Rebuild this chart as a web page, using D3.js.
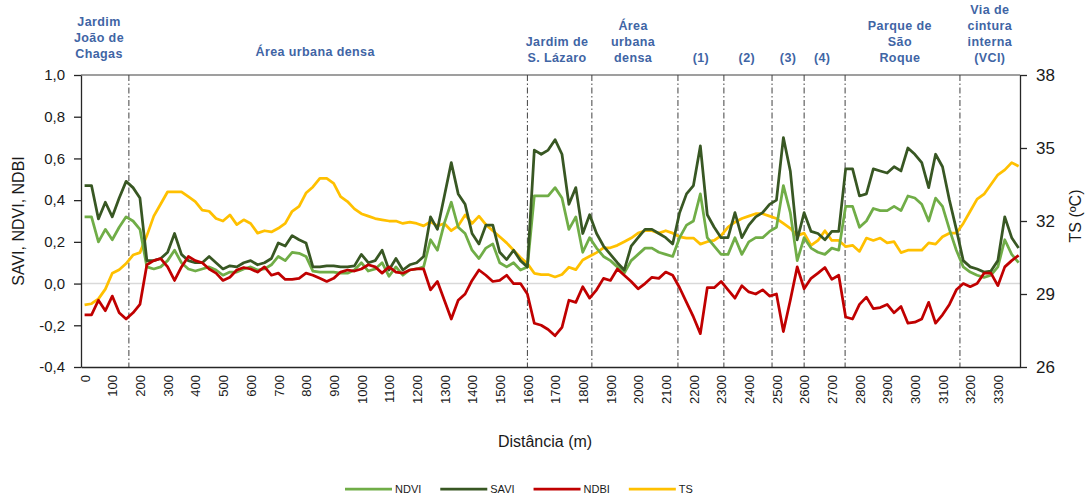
<!DOCTYPE html>
<html lang="pt">
    <head>
        <meta charset="utf-8">
        <title>Perfil SAVI NDVI NDBI TS</title>
        <script type="text/javascript" src="https://cdn.jsdelivr.net/npm/d3@7"></script>
        <style>
            body { margin: 0; background: #fff; }
            text { font-family: "Liberation Sans", Arial, sans-serif; }
        </style>
    </head>
    <body>
        <script type="text/javascript">

            // sampling every 25 m along the transect
            var distance = d3.range(0, 3400, 25);

            var savi = [0.47, 0.47, 0.31, 0.39, 0.32, 0.41, 0.49, 0.46, 0.41, 0.11,
                0.11, 0.12, 0.15, 0.24, 0.14, 0.11, 0.10, 0.10, 0.13, 0.10,
                0.07, 0.085, 0.08, 0.10, 0.11, 0.09, 0.10, 0.12, 0.195, 0.18,
                0.23, 0.21, 0.195, 0.08, 0.08, 0.085, 0.085, 0.08, 0.08, 0.085,
                0.14, 0.10, 0.11, 0.16, 0.065, 0.12, 0.065, 0.09, 0.10, 0.13,
                0.32, 0.26, 0.42, 0.58, 0.43, 0.38, 0.24, 0.19, 0.28, 0.28,
                0.15, 0.115, 0.16, 0.11, 0.08, 0.64, 0.62, 0.64, 0.69, 0.62,
                0.38, 0.46, 0.24, 0.33, 0.24, 0.18, 0.14, 0.10, 0.065, 0.18,
                0.22, 0.26, 0.26, 0.24, 0.22, 0.19, 0.34, 0.43, 0.47, 0.66,
                0.33, 0.27, 0.22, 0.22, 0.34, 0.22, 0.28, 0.32, 0.34, 0.38,
                0.40, 0.70, 0.54, 0.21, 0.34, 0.25, 0.24, 0.21, 0.25, 0.25,
                0.55, 0.55, 0.42, 0.43, 0.55, 0.54, 0.53, 0.56, 0.54, 0.65,
                0.62, 0.58, 0.46, 0.62, 0.56, 0.40, 0.26, 0.11, 0.08, 0.07,
                0.055, 0.06, 0.11, 0.32, 0.22, 0.17];

            var ndvi = [0.32, 0.32, 0.20, 0.26, 0.21, 0.27, 0.32, 0.30, 0.26, 0.08,
                0.07, 0.08, 0.11, 0.16, 0.10, 0.07, 0.06, 0.07, 0.08, 0.065,
                0.04, 0.055, 0.055, 0.07, 0.08, 0.065, 0.07, 0.09, 0.13, 0.11,
                0.15, 0.145, 0.13, 0.06, 0.055, 0.055, 0.055, 0.05, 0.05, 0.065,
                0.10, 0.06, 0.07, 0.10, 0.035, 0.08, 0.04, 0.065, 0.07, 0.08,
                0.21, 0.16, 0.29, 0.39, 0.27, 0.24, 0.16, 0.12, 0.17, 0.19,
                0.10, 0.08, 0.10, 0.065, 0.08, 0.42, 0.42, 0.42, 0.46, 0.41,
                0.26, 0.32, 0.15, 0.22, 0.17, 0.13, 0.11, 0.08, 0.05, 0.11,
                0.14, 0.17, 0.17, 0.15, 0.14, 0.13, 0.22, 0.28, 0.30, 0.43,
                0.22, 0.18, 0.14, 0.14, 0.22, 0.14, 0.20, 0.22, 0.22, 0.25,
                0.27, 0.47, 0.34, 0.11, 0.22, 0.17, 0.15, 0.14, 0.17, 0.16,
                0.37, 0.37, 0.27, 0.30, 0.36, 0.35, 0.35, 0.37, 0.35, 0.42,
                0.41, 0.38, 0.30, 0.41, 0.37, 0.26, 0.16, 0.08, 0.055, 0.04,
                0.03, 0.04, 0.08, 0.21, 0.14, 0.10];

            var ndbi = [-0.15, -0.15, -0.08, -0.13, -0.06, -0.14, -0.17, -0.14, -0.10, 0.09,
                0.11, 0.12, 0.08, 0.015, 0.08, 0.13, 0.11, 0.10, 0.07, 0.05,
                0.015, 0.03, 0.065, 0.077, 0.07, 0.055, 0.08, 0.04, 0.05, 0.02,
                0.02, 0.025, 0.05, 0.04, 0.025, 0.01, 0.025, 0.055, 0.065, 0.06,
                0.07, 0.09, 0.08, 0.05, 0.08, 0.055, 0.05, 0.065, 0.07, 0.07,
                -0.03, 0.01, -0.08, -0.17, -0.08, -0.05, 0.015, 0.065, 0.04, 0.01,
                0.015, 0.04, 0.0, 0.0, -0.05, -0.19, -0.20, -0.22, -0.25, -0.21,
                -0.08, -0.09, -0.015, -0.07, -0.03, 0.025, 0.015, 0.07, 0.04, 0.01,
                -0.025, 0.0, 0.03, 0.025, 0.055, 0.04, -0.02, -0.09, -0.16, -0.24,
                -0.02, -0.02, 0.01, -0.03, -0.07, -0.01, -0.04, -0.05, -0.03, -0.06,
                -0.05, -0.23, -0.08, 0.08, -0.025, 0.025, 0.05, 0.077, 0.02, 0.04,
                -0.16, -0.17, -0.10, -0.065, -0.12, -0.115, -0.10, -0.14, -0.11, -0.19,
                -0.185, -0.17, -0.09, -0.19, -0.15, -0.10, -0.03, 0.0, -0.015, 0.0,
                0.05, 0.05, -0.01, 0.08, 0.11, 0.135];

            // surface temperature (ºC), right axis
            var ts = [28.55, 28.6, 28.8, 29.2, 29.85, 30.0, 30.25, 30.6, 30.7, 31.4,
                32.2, 32.7, 33.2, 33.2, 33.2, 33.0, 32.8, 32.45, 32.4, 32.1,
                32.0, 32.25, 31.85, 32.05, 31.9, 31.5, 31.6, 31.55, 31.7, 31.9,
                32.4, 32.6, 33.15, 33.4, 33.75, 33.75, 33.55, 33.0, 32.8, 32.5,
                32.3, 32.2, 32.1, 32.05, 32.0, 32.0, 31.9, 31.95, 31.9, 31.8,
                31.97, 31.8, 31.9, 31.6, 31.8, 32.25, 31.9, 32.2, 31.85, 31.6,
                31.35, 31.1, 30.8, 30.5, 30.25, 29.85, 29.8, 29.8, 29.7, 29.8,
                30.1, 30.0, 30.4, 30.55, 30.7, 30.9, 30.9, 31.0, 31.15, 31.3,
                31.5, 31.6, 31.6, 31.5, 31.6, 31.5, 31.35, 31.3, 31.3, 31.05,
                31.15, 31.2, 31.4, 31.75, 31.95, 32.1, 32.2, 32.3, 32.3, 32.2,
                32.1, 31.9, 31.7, 31.4, 31.5, 31.0, 31.2, 31.6, 31.2, 31.2,
                30.95, 31.0, 30.75, 31.3, 31.2, 31.3, 31.1, 31.15, 30.7, 30.8,
                30.8, 30.8, 31.1, 31.05, 31.35, 31.5, 31.5, 31.9, 32.4, 32.9,
                33.1, 33.5, 33.9, 34.1, 34.4, 34.25];

            var distanceTicks = [0, 100, 200, 300, 400, 500, 600, 700, 800, 900, 1000,
                1100, 1200, 1300, 1400, 1500, 1600, 1700, 1800, 1900, 2000, 2100,
                2200, 2300, 2400, 2500, 2600, 2700, 2800, 2900, 3000, 3100, 3200, 3300];
            var indexTicks = [-0.4, -0.2, 0.0, 0.2, 0.4, 0.6, 0.8, 1.0];
            var tsTicks = [26, 29, 32, 35, 38];

            // zone boundaries (m) and zone names
            var zoneLimits = [160, 1600, 1833, 2144, 2310, 2484, 2600, 2748, 3163];
            var zoneNames = [["Jardim", "João de", "Chagas"], ["Área urbana densa"],
                ["Jardim de", "S. Lázaro"], ["Área", "urbana", "densa"],
                ["(1)"], ["(2)"], ["(3)"], ["(4)"],
                ["Parque de", "São", "Roque"], ["Via de", "cintura", "interna", "(VCI)"]];
            var zoneCentre = [52, 833, 1707, 1982, 2227, 2393, 2542, 2665, 2946, 3271];

            var w = 1086;
            var h = 495;
            var pLeft = 81, pRight = 1020, pTop = 75, pBottom = 367;

            //Create SVG element
            var svg = d3.select("body")
                .append("svg")
                .attr("width", w)
                .attr("height", h);

            var x = d3.scaleLinear().domain([-13, 3380]).range([pLeft, pRight]);
            var yIdx = d3.scaleLinear().domain([-0.4, 1.0]).range([pBottom, pTop]);
            var yTs = d3.scaleLinear().domain([26, 38]).range([pBottom, pTop]);

            // zero line
            svg.append("line")
                .attr("x1", pLeft).attr("x2", pRight)
                .attr("y1", yIdx(0)).attr("y2", yIdx(0))
                .attr("stroke", "#d9d9d9")
                .attr("stroke-width", 1.5);

            // top frame
            svg.append("line")
                .attr("x1", pLeft).attr("x2", pRight)
                .attr("y1", pTop).attr("y2", pTop)
                .attr("stroke", "#404040")
                .attr("stroke-width", 1.2);

            // zone limits
            svg.selectAll("line.zone")
                .data(zoneLimits)
                .enter()
                .append("line")
                .attr("class", "zone")
                .attr("x1", function(d) { return x(d); })
                .attr("x2", function(d) { return x(d); })
                .attr("y1", pTop)
                .attr("y2", pBottom)
                .attr("stroke", "#404040")
                .attr("stroke-width", 1)
                .attr("stroke-dasharray", "6,2.5,1.5,2.5");

            // zone names
            var zoneBase = function(i) { return i == 0 ? 58 : (i == 1 ? 56 : 62); };
            zoneNames.forEach(function(lines, i) {
                var t = svg.append("text")
                    .attr("text-anchor", "middle")
                    .attr("font-size", "12.5px")
                    .attr("font-weight", "bold")
                    .attr("letter-spacing", "0.4px")
                    .attr("fill", "#3f65a5");
                lines.forEach(function(s, j) {
                    t.append("tspan")
                        .attr("x", x(zoneCentre[i]))
                        .attr("y", zoneBase(i) - (lines.length - 1 - j) * 16)
                        .text(s);
                });
            });

            var series = [
                { name: "NDVI", values: ndvi, color: "#70ad47", axis: yIdx },
                { name: "SAVI", values: savi, color: "#385723", axis: yIdx },
                { name: "NDBI", values: ndbi, color: "#c00000", axis: yIdx },
                { name: "TS", values: ts, color: "#ffc000", axis: yTs }
            ];

            // draw order: TS behind, then indices
            [series[3], series[0], series[1], series[2]].forEach(function(s) {
                var line = d3.line()
                    .x(function(d, i) { return x(distance[i]); })
                    .y(function(d) { return s.axis(d); });
                svg.append("path")
                    .datum(s.values)
                    .attr("d", line)
                    .attr("fill", "none")
                    .attr("stroke", s.color)
                    .attr("stroke-width", 2.75)
                    .attr("stroke-linejoin", "round");
            });

            // left axis
            var axL = svg.append("g")
                .attr("transform", "translate(" + pLeft + ",0)")
                .call(d3.axisLeft(yIdx)
                    .tickValues(indexTicks)
                    .tickSize(7)
                    .tickSizeOuter(0)
                    .tickPadding(9)
                    .tickFormat(function(d) { return d.toFixed(1).replace(".", ","); }));

            // right axis
            var axR = svg.append("g")
                .attr("transform", "translate(" + pRight + ",0)")
                .call(d3.axisRight(yTs)
                    .tickValues(tsTicks)
                    .tickSize(7)
                    .tickSizeOuter(0)
                    .tickPadding(9));

            // bottom axis
            var axB = svg.append("g")
                .attr("transform", "translate(0," + pBottom + ")")
                .call(d3.axisBottom(x)
                    .tickValues(distanceTicks)
                    .tickSize(0)
                    .tickSizeOuter(0)
                    .tickFormat(function(d) { return d; }));
            axB.selectAll("text")
                .attr("transform", "rotate(-90)")
                .attr("text-anchor", "end")
                .attr("x", -8)
                .attr("y", 0)
                .attr("dy", "0.36em")
                .attr("font-size", "13px");

            axL.selectAll("text").attr("font-size", "15px");
            axR.selectAll("text").attr("font-size", "17px");
            [axL, axR, axB].forEach(function(a) {
                a.select(".domain").attr("stroke", "#262626").attr("stroke-width", 1.3);
                a.selectAll(".tick line").attr("stroke", "#262626").attr("stroke-width", 1.3);
                a.selectAll("text").attr("fill", "#1a1a1a").attr("font-family", "Liberation Sans, Arial, sans-serif");
            });

            // axis titles
            svg.append("text")
                .attr("transform", "translate(24," + ((pTop + pBottom) / 2) + ") rotate(-90)")
                .attr("text-anchor", "middle")
                .attr("font-size", "16px")
                .attr("fill", "#1a1a1a")
                .text("SAVI, NDVI, NDBI");

            svg.append("text")
                .attr("transform", "translate(1081,216) rotate(-90)")
                .attr("text-anchor", "middle")
                .attr("font-size", "16px")
                .attr("fill", "#1a1a1a")
                .text("TS (ºC)");

            svg.append("text")
                .attr("x", 545)
                .attr("y", 447)
                .attr("text-anchor", "middle")
                .attr("font-size", "16px")
                .attr("fill", "#1a1a1a")
                .text("Distância (m)");

            // legend
            var lx = 345;
            series.forEach(function(s) {
                svg.append("line")
                    .attr("x1", lx).attr("x2", lx + 47)
                    .attr("y1", 489).attr("y2", 489)
                    .attr("stroke", s.color)
                    .attr("stroke-width", 2.75);
                var t = svg.append("text")
                    .attr("x", lx + 50)
                    .attr("y", 493)
                    .attr("font-size", "11px")
                    .attr("fill", "#1a1a1a")
                    .text(s.name);
                lx += 50 + t.node().getComputedTextLength() + 19;
            });

        </script>
    </body>
</html>
